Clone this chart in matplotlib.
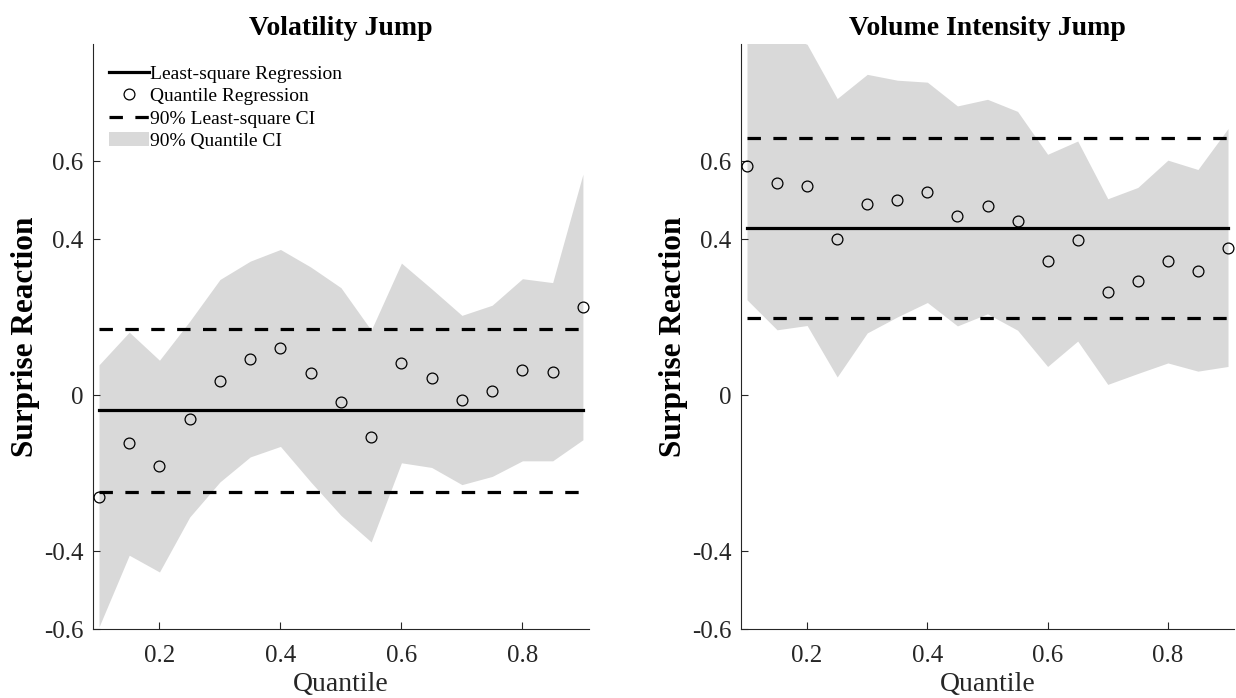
import matplotlib
matplotlib.use("Agg")
import matplotlib.pyplot as plt
from matplotlib.lines import Line2D
from matplotlib.patches import Patch

plt.rcParams['font.family'] = ['Liberation Serif', 'DejaVu Serif']

quantiles = [0.10, 0.15, 0.20, 0.25, 0.30, 0.35, 0.40, 0.45, 0.50,
             0.55, 0.60, 0.65, 0.70, 0.75, 0.80, 0.85, 0.90]

# Panel 1: Volatility Jump
vol_qr = [-0.261, -0.122, -0.182, -0.061, 0.037, 0.092, 0.122, 0.056, -0.017,
          -0.106, 0.084, 0.044, -0.013, 0.011, 0.066, 0.061, 0.227]
vol_ci_upper = [0.078, 0.162, 0.090, 0.190, 0.297, 0.344, 0.374, 0.329, 0.276,
                0.167, 0.339, 0.273, 0.205, 0.231, 0.299, 0.289, 0.567]
vol_ci_lower = [-0.594, -0.410, -0.453, -0.312, -0.222, -0.158, -0.131, -0.222, -0.308,
                -0.376, -0.173, -0.185, -0.229, -0.208, -0.168, -0.168, -0.114]
vol_ls = -0.038
vol_ls_ci = (-0.247, 0.169)

# Panel 2: Volume Intensity Jump
vi_qr = [0.587, 0.544, 0.538, 0.402, 0.490, 0.501, 0.521, 0.459, 0.485,
         0.446, 0.345, 0.398, 0.265, 0.294, 0.344, 0.320, 0.379]
vi_ci_upper = [0.95, 0.93, 0.90, 0.761, 0.823, 0.808, 0.803, 0.742, 0.759,
               0.728, 0.618, 0.652, 0.504, 0.533, 0.603, 0.579, 0.684]
vi_ci_lower = [0.245, 0.168, 0.179, 0.047, 0.160, 0.201, 0.238, 0.178, 0.209,
               0.167, 0.074, 0.139, 0.028, 0.056, 0.083, 0.062, 0.074]
vi_ls = 0.428
vi_ls_ci = (0.197, 0.660)

titles = ["Volatility Jump", "Volume Intensity Jump"]
yticks = [-0.6, -0.4, 0, 0.4, 0.6]
yticklabels = ["-0.6", "-0.4", "0", "0.4", "0.6"]
xticks = [0.2, 0.4, 0.6, 0.8]
xticklabels = ["0.2", "0.4", "0.6", "0.8"]

axis_color = '#262626'
fill_color = '#d9d9d9'

fig = plt.figure(figsize=(12.36, 6.98), dpi=100)
bottom, top = 0.0984, 0.9365
ax1 = fig.add_axes([0.0752, bottom, 0.4013, top - bottom])
ax2 = fig.add_axes([0.5995, bottom, 0.3989, top - bottom])

panels = [
    (ax1, vol_qr, vol_ci_upper, vol_ci_lower, vol_ls, vol_ls_ci),
    (ax2, vi_qr, vi_ci_upper, vi_ci_lower, vi_ls, vi_ls_ci),
]

for i, (ax, qr, up, lo, ls, ls_ci) in enumerate(panels):
    ax.fill_between(quantiles, lo, up, color=fill_color, linewidth=0, zorder=1)
    ax.plot([quantiles[0], quantiles[-1]], [ls, ls], color='black', lw=2.3, zorder=3)
    for c in ls_ci:
        ax.plot([quantiles[0], quantiles[-1]], [c, c], color='black', lw=2.3,
                dashes=(4.2, 3.9), zorder=3)
    ax.plot(quantiles, qr, linestyle='none', marker='o', markersize=7.8,
            markerfacecolor='none', markeredgecolor='black', markeredgewidth=0.9,
            zorder=4, clip_on=False)
    ax.set_xlim(0.09, 0.91)
    ax.set_ylim(-0.6, 0.9)
    ax.set_yticks(yticks)
    ax.set_yticklabels(yticklabels)
    ax.set_xticks(xticks)
    ax.set_xticklabels(xticklabels)
    ax.tick_params(direction='in', length=5, width=0.8, colors=axis_color,
                   labelsize=18, pad=7)
    ax.tick_params(axis='x', pad=11)
    for s in ['top', 'right']:
        ax.spines[s].set_visible(False)
    for s in ['left', 'bottom']:
        ax.spines[s].set_color(axis_color)
        ax.spines[s].set_linewidth(0.8)
    ax.set_title(titles[i], fontsize=20, fontweight='bold', pad=7)
    ax.set_xlabel("Quantile", fontsize=20, color=axis_color, labelpad=4)
    ax.set_ylabel("Surprise Reaction", fontsize=22.5, fontweight='bold', labelpad=3)

handles = [
    Line2D([], [], color='black', lw=2.3),
    Line2D([], [], linestyle='none', marker='o', markersize=7.8,
           markerfacecolor='none', markeredgecolor='black', markeredgewidth=0.9),
    Line2D([], [], color='black', lw=2.3, dashes=(4.2, 3.9)),
    Patch(facecolor=fill_color, edgecolor='none'),
]
labels = ["Least-square Regression", "Quantile Regression",
          "90% Least-square CI", "90% Quantile CI"]
ax1.legend(handles, labels, loc='upper left', bbox_to_anchor=(0.032, 0.964),
           frameon=False, fontsize=14, handlelength=2.06, handletextpad=0.05,
           labelspacing=0.24, borderpad=0, borderaxespad=0, numpoints=1)

fig.savefig("out.png", dpi=100)
